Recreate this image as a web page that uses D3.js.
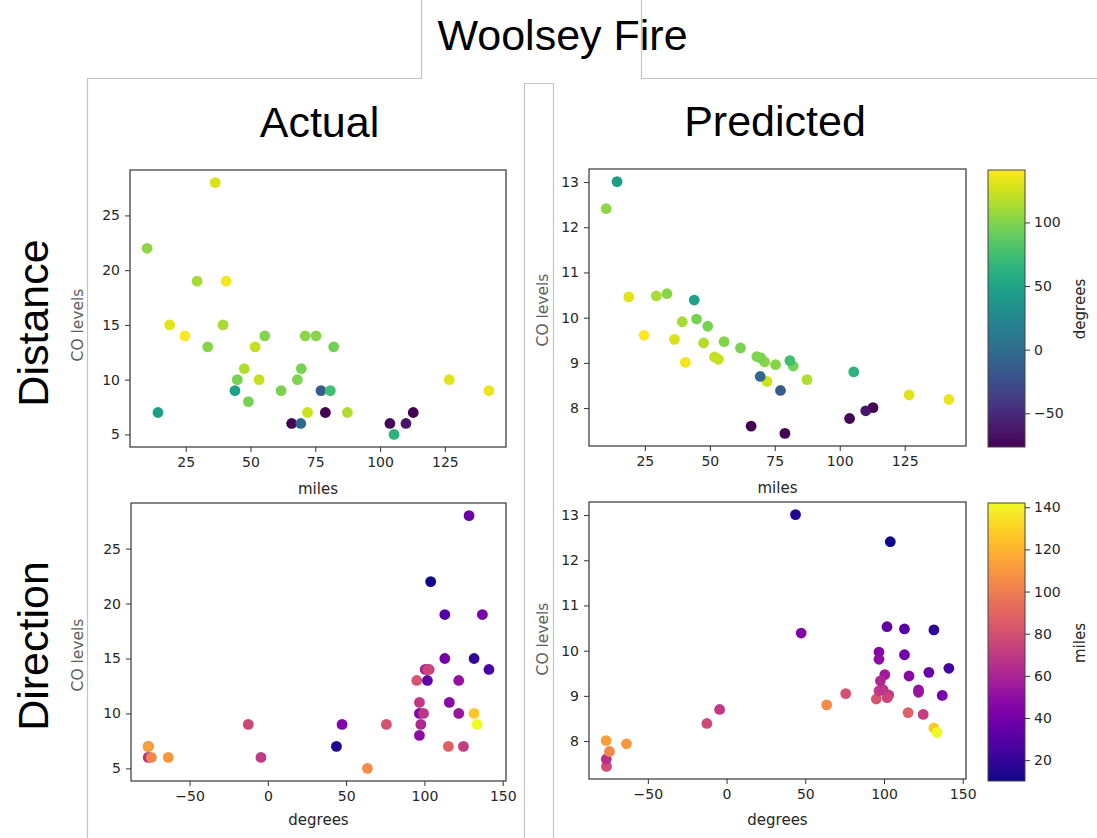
<!DOCTYPE html>
<html><head><meta charset="utf-8">
<script src="https://cdn.jsdelivr.net/npm/d3@7"></script>
<style>body{margin:0;background:#fff} svg{display:block}</style>
</head><body>
<svg id="chart" width="1097" height="838"></svg>
<script>
// ---- data (one entry per monitoring station) ----
const miles = [36.4,10.1,29.4,40.6,18.8,39.4,24.7,55.5,71.1,75.3,33.5,51.8,82.1,47.6,69.6,44.9,53.3,68.1,126.7,44.0,61.8,77.2,80.8,142.0,49.2,14.3,72.0,78.9,87.4,112.8,65.9,69.4,103.8,110.0,105.4];
const degrees = [128.5,104,113,137,131.7,113,141.2,100.5,103,102,101.9,121.9,95.1,115.9,96.8,96.8,121.9,99.4,131.7,47.4,97.7,-12.5,75.7,133.6,96.8,43.8,124.9,-76.3,115.3,-76.5,-76.4,-4.4,-74.4,-63.6,63.6];
const actualCO = [28,22,19,19,15,15,14,14,14,14,13,13,13,11,11,10,10,10,10,9,9,9,9,9,8,7,7,7,7,7,6,6,6,6,5];
const predictedCO = [9.52,12.41,10.48,9.01,10.46,9.91,9.61,9.47,9.02,8.96,10.53,9.13,8.93,9.44,9.11,9.97,9.08,9.14,8.29,10.39,9.33,8.39,9.05,8.19,9.81,13.01,8.59,7.44,8.63,8.01,7.60,8.70,7.77,7.94,8.80];

const xTicksMiles = [25,50,75,100,125];
const xTicksDegrees = [-50,0,50,100,150];
const yTicksActual = [5,10,15,20,25];
const yTicksPredicted = [8,9,10,11,12,13];
const cbTicksDegrees = [-50,0,50,100];
const cbTicksMiles = [20,40,60,80,100,120,140];

const titleText = "Woolsey Fire";
const colTitles = ["Actual","Predicted"];
const rowTitles = ["Distance","Direction"];

// ---- helpers ----
const svg = d3.select("#chart");
const TICK_FONT = "DejaVu Sans, sans-serif";
const TITLE_FONT = "Liberation Sans, Arial, sans-serif";

function padded(vals){
  const [a,b] = d3.extent(vals); const r = b - a;
  return [a - 0.05*r, b + 0.05*r];
}

const degColor = d3.scaleSequential(d3.interpolateViridis).domain(d3.extent(degrees));
const mileColor = d3.scaleSequential(d3.interpolatePlasma).domain(d3.extent(miles));

// ---- frame lines (notebook composite layout) ----
const frame = svg.append("g").attr("fill","none").attr("stroke","#c4c4c4").attr("stroke-width",1.2);
frame.append("path").attr("d","M421.5,0 V78.5 H87.5 V838");
frame.append("path").attr("d","M641.5,0 V78.5 H1097");
frame.append("path").attr("d","M524.5,838 V83.5 H553.5 V838");

// ---- titles ----
svg.append("text").attr("x",562.5).attr("y",50).attr("text-anchor","middle")
  .style("font-family",TITLE_FONT).style("font-size","43px").attr("fill","#000").text(titleText);
svg.append("text").attr("x",319.5).attr("y",137).attr("text-anchor","middle")
  .style("font-family",TITLE_FONT).style("font-size","43px").attr("fill","#000").text(colTitles[0]);
svg.append("text").attr("x",775).attr("y",136).attr("text-anchor","middle")
  .style("font-family",TITLE_FONT).style("font-size","43px").attr("fill","#000").text(colTitles[1]);
svg.append("text").attr("transform","translate(48,323) rotate(-90)").attr("text-anchor","middle")
  .style("font-family",TITLE_FONT).style("font-size","43px").attr("fill","#000").text(rowTitles[0]);
svg.append("text").attr("transform","translate(48,646) rotate(-90)").attr("text-anchor","middle")
  .style("font-family",TITLE_FONT).style("font-size","43px").attr("fill","#000").text(rowTitles[1]);

// ---- panels ----
const panels = [
  {box:[130,170,506,447], xv:miles,   yv:actualCO,    cv:degrees, color:degColor,  xt:xTicksMiles,   yt:yTicksActual,    xl:"miles",   xlY:494, ylX:83,  ylY:325},
  {box:[589,169,966,446], xv:miles,   yv:predictedCO, cv:degrees, color:degColor,  xt:xTicksMiles,   yt:yTicksPredicted, xl:"miles",   xlY:493, ylX:548, ylY:310},
  {box:[131,503,506,781], xv:degrees, yv:actualCO,    cv:miles,   color:mileColor, xt:xTicksDegrees, yt:yTicksActual,    xl:"degrees", xlY:825, ylX:83,  ylY:655},
  {box:[589,502,966,779], xv:degrees, yv:predictedCO, cv:miles,   color:mileColor, xt:xTicksDegrees, yt:yTicksPredicted, xl:"degrees", xlY:825, ylX:548, ylY:639}
];

function styleAxis(g){
  g.selectAll("path").remove();
  g.selectAll("line").attr("stroke","#333").attr("stroke-width",1);
  g.selectAll("text").style("font-family",TICK_FONT).style("font-size","14px").attr("fill","#262626");
}

panels.forEach(p=>{
  const [x0,y0,x1,y1] = p.box;
  const x = d3.scaleLinear().domain(padded(p.xv)).range([x0,x1]);
  const y = d3.scaleLinear().domain(padded(p.yv)).range([y1,y0]);
  const g = svg.append("g");
  g.append("g").attr("transform",`translate(0,${y1})`)
    .call(d3.axisBottom(x).tickValues(p.xt).tickFormat(d=>d3.format("d")(d).replace("-","\u2212")).tickSize(5).tickPadding(5))
    .call(styleAxis);
  g.append("g").attr("transform",`translate(${x0},0)`)
    .call(d3.axisLeft(y).tickValues(p.yt).tickFormat(d3.format("d")).tickSize(5).tickPadding(5))
    .call(styleAxis);
  g.append("g").selectAll("circle").data(d3.range(p.xv.length)).join("circle")
    .attr("cx",i=>x(p.xv[i])).attr("cy",i=>y(p.yv[i])).attr("r",5.4)
    .attr("fill",i=>p.color(p.cv[i]));
  g.append("rect").attr("x",x0).attr("y",y0).attr("width",x1-x0).attr("height",y1-y0)
    .attr("fill","none").attr("stroke","#333").attr("stroke-width",1.2);
  g.append("text").attr("x",(x0+x1)/2).attr("y",p.xlY).attr("text-anchor","middle")
    .style("font-family",TICK_FONT).style("font-size","15px").attr("fill","#262626").text(p.xl);
  g.append("text").attr("transform",`translate(${p.ylX},${p.ylY}) rotate(-90)`).attr("text-anchor","middle")
    .style("font-family",TICK_FONT).style("font-size","15.5px").attr("fill","#606060").text("CO levels");
});

// ---- colorbars ----
const defs = svg.append("defs");
function colorbar(id, box, scale, interp, ticks, label, labelY){
  const [x0,y0,x1,y1] = box;
  const grad = defs.append("linearGradient").attr("id",id).attr("x1","0").attr("y1","1").attr("x2","0").attr("y2","0");
  d3.range(0,1.0001,0.02).forEach(t=>grad.append("stop").attr("offset",t).attr("stop-color",interp(t)));
  svg.append("rect").attr("x",x0).attr("y",y0).attr("width",x1-x0).attr("height",y1-y0).attr("fill",`url(#${id})`)
    .attr("stroke","#444").attr("stroke-width",1);
  const ys = d3.scaleLinear().domain(scale.domain()).range([y1,y0]);
  svg.append("g").attr("transform",`translate(${x1},0)`)
    .call(d3.axisRight(ys).tickValues(ticks).tickFormat(d=>d3.format("d")(d).replace("-","\u2212")).tickSize(5).tickPadding(4))
    .call(styleAxis);
  svg.append("text").attr("transform",`translate(1085,${labelY}) rotate(-90)`).attr("text-anchor","middle")
    .style("font-family",TICK_FONT).style("font-size","15px").attr("fill","#262626").text(label);
}
colorbar("gradDeg",[988,170,1025,447],degColor,d3.interpolateViridis,cbTicksDegrees,"degrees",309);
colorbar("gradMiles",[988,503,1025,781],mileColor,d3.interpolatePlasma,cbTicksMiles,"miles",643);
</script>
</body></html>
